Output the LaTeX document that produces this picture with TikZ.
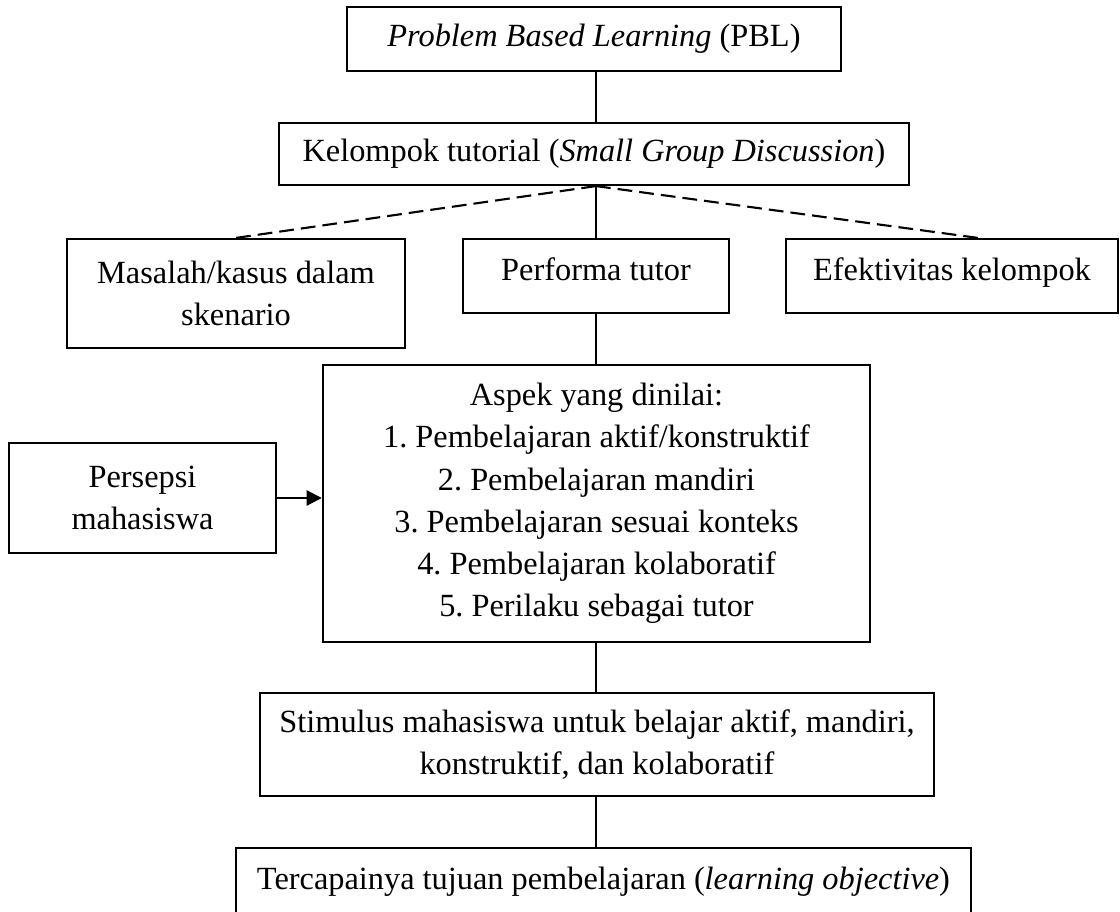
\documentclass[tikz,border=0pt]{standalone}
\usepackage{fontspec}
\setmainfont{Liberation Serif}
\usepackage{tikz}
\usetikzlibrary{arrows.meta}

\tikzset{
  kotak/.style={draw, line width=0.6pt, align=center, inner sep=0pt,
                font=\fontsize{9.2}{12}\selectfont\frenchspacing},
  sebaris/.style={text height=7pt, text depth=4.7pt},
  garis/.style={line width=0.6pt},
  putus/.style={line width=0.6pt, dash pattern=on 4.2pt off 2pt}
}

\begin{document}
\begin{tikzpicture}[x=0.01cm, y=-0.01cm]
    \useasboundingbox (0,0) rectangle (1120,912);

    \node[kotak, minimum width=4.94cm, minimum height=0.64cm] (pbl) at (594,39)
      {\textit{Problem Based Learning} (PBL)};
    \node[kotak, minimum width=6.30cm, minimum height=0.62cm] (kelompok) at (594,154)
      {Kelompok tutorial (\textit{Small Group Discussion})};

    \node[kotak, minimum width=3.37cm, minimum height=1.09cm] (masalah) at (236,293.5)
      {Masalah/kasus dalam\\skenario};
    \node[kotak, sebaris, minimum width=2.66cm, minimum height=0.74cm] (performa) at (596,276)
      {Performa tutor};
    \node[kotak, sebaris, minimum width=3.32cm, minimum height=0.74cm] (efektivitas) at (952,276)
      {Efektivitas kelompok};

    \node[kotak, minimum width=5.47cm, minimum height=2.77cm] (aspek) at (596.5,503.5)
      {Aspek yang dinilai:\\
       1. Pembelajaran aktif/konstruktif\\
       2. Pembelajaran mandiri\\
       3. Pembelajaran sesuai konteks\\
       4. Pembelajaran kolaboratif\\
       5. Perilaku sebagai tutor};
    \node[kotak, minimum width=2.67cm, minimum height=1.10cm] (persepsi) at (142.5,498)
      {Persepsi\\mahasiswa};

    \node[kotak, minimum width=6.74cm, minimum height=1.03cm] (stimulus) at (597,744.5)
      {Stimulus mahasiswa untuk belajar aktif, mandiri,\\konstruktif, dan kolaboratif};
    \node[kotak, minimum width=7.35cm, minimum height=0.68cm] (tercapai) at (603.5,882)
      {Tercapainya tujuan pembelajaran (\textit{learning objective})};

    \coordinate (kanan) at ([xshift=0.26cm]efektivitas.north);

    \draw[garis] (pbl.south -| performa.north) -- (kelompok.north -| performa.north);
    \draw[garis] (kelompok.south -| performa.north) -- (performa.north);
    \draw[putus] (kelompok.south -| performa.north) -- (masalah.north);
    \draw[putus] (kelompok.south -| performa.north) -- (kanan);
    \draw[garis] (performa.south) -- (aspek.north -| performa.south);
    \draw[garis] (aspek.south -| performa.south) -- (stimulus.north -| performa.south);
    \draw[garis] (stimulus.south -| performa.south) -- (tercapai.north -| performa.south);
    \draw[garis, -{Triangle[length=4.3pt, width=4.3pt]}]
      (persepsi.east) -- (persepsi.east -| aspek.west);
\end{tikzpicture}
\end{document}
